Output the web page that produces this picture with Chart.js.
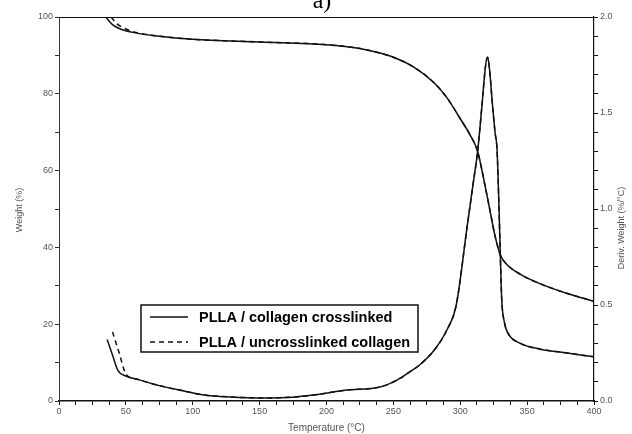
<!DOCTYPE html>
<html>
<head>
<meta charset="utf-8">
<script src="https://cdn.jsdelivr.net/npm/chart.js@4.4.1/dist/chart.umd.min.js"></script>
<style>
  html,body{margin:0;padding:0;background:#fff}
  #wrap{width:632px;height:434px;position:relative}
</style>
</head>
<body>
<div id="wrap"><canvas id="tgaChart"></canvas></div>
<script>
/* ── DATA ── */
const seriesNames = ['PLLA / collagen crosslinked', 'PLLA / uncrosslinked collagen'];

// weight loss (TG), left axis
const tgTempCross   = [35, 40, 45, 55, 75, 100, 150, 200, 225, 240, 250, 265, 280, 290, 300, 307, 313, 318, 322, 326, 330, 335, 345, 360, 380, 400];
const tgWeightCross = [100, 98, 97, 96, 95, 94.2, 93.5, 92.8, 91.8, 90.6, 89.5, 87, 83, 79, 73.5, 69.5, 65, 57, 50, 43, 38, 35.5, 33, 30.5, 28, 26];
const tgTempUncross   = [39, 43, 48, 56, 75, 100, 150, 200, 225, 240, 250, 265, 280, 290, 300, 307, 313, 318, 322, 326, 330, 335, 345, 360, 380, 400];
const tgWeightUncross = [100, 98.3, 97.2, 96.1, 95, 94.2, 93.5, 92.8, 91.8, 90.6, 89.5, 87, 83, 79, 73.5, 69.5, 65, 57, 50, 43, 38, 35.5, 33, 30.5, 28, 26];

// derivative weight (DTG), right axis
const dtgTempCross  = [36, 40, 44, 50, 60, 75, 90, 110, 128, 152, 175, 190, 215, 240, 253, 262, 270, 280, 290, 297, 305, 310, 313, 316, 319, 320.5, 322, 324, 326, 327.5, 329, 330, 331, 333, 336, 345, 360, 380, 400];
const dtgValueCross = [0.32, 0.24, 0.16, 0.13, 0.11, 0.08, 0.057, 0.03, 0.021, 0.016, 0.02, 0.031, 0.057, 0.073, 0.11, 0.15, 0.19, 0.26, 0.37, 0.50, 0.90, 1.15, 1.30, 1.52, 1.75, 1.79, 1.72, 1.55, 1.40, 1.31, 1.0, 0.75, 0.53, 0.41, 0.35, 0.30, 0.27, 0.25, 0.23];
const dtgTempUncross  = [40, 45, 50, 55, 60, 75, 90, 110, 128, 152, 175, 190, 215, 240, 253, 262, 270, 280, 290, 297, 305, 310, 313, 316, 319, 320.5, 322, 324, 326, 327.5, 329, 330, 331, 333, 336, 345, 360, 380, 400];
const dtgValueUncross = [0.36, 0.25, 0.14, 0.12, 0.11, 0.08, 0.057, 0.03, 0.021, 0.016, 0.02, 0.031, 0.057, 0.073, 0.11, 0.15, 0.19, 0.26, 0.37, 0.50, 0.90, 1.15, 1.30, 1.52, 1.75, 1.79, 1.72, 1.55, 1.40, 1.31, 1.0, 0.75, 0.53, 0.41, 0.35, 0.30, 0.27, 0.25, 0.23];

const titleText  = 'a)';
const xTitle     = 'Temperature (°C)';
const yTitle     = 'Weight (%)';
const y1Title    = 'Deriv. Weight (%/°C)';

function pts(xs, ys){ return xs.map((x,i)=>({x:x, y:ys[i]})); }

const INK = '#111';
const DASH = [5,4];

/* ── PLUGIN: frame top, title, y titles, legend box ── */
const decor = {
  id:'decor',
  afterDraw(chart){
    const ctx = chart.ctx, a = chart.chartArea;
    ctx.save();
    // top frame
    ctx.strokeStyle = INK; ctx.lineWidth = 1.2;
    ctx.beginPath(); ctx.moveTo(a.left, a.top+0.5); ctx.lineTo(a.right, a.top+0.5); ctx.stroke();

    // "a)" title, cut by top edge
    ctx.fillStyle = '#000';
    ctx.font = '24px "Liberation Serif", "DejaVu Serif", serif';
    ctx.textAlign = 'center'; ctx.textBaseline = 'alphabetic';
    ctx.fillText(titleText, 322, 8);

    // rotated axis titles
    ctx.fillStyle = '#555';
    ctx.font = '9px "Liberation Sans", Arial, sans-serif';
    ctx.textBaseline = 'middle';
    ctx.save(); ctx.translate(20, 210); ctx.rotate(-Math.PI/2); ctx.fillText(yTitle, 0, 0); ctx.restore();
    ctx.save(); ctx.translate(622, 228); ctx.rotate(-Math.PI/2); ctx.fillText(y1Title, 0, 0); ctx.restore();

    // legend box
    const bx = 141, by = 305, bw = 277, bh = 47;
    ctx.fillStyle = '#fff'; ctx.fillRect(bx, by, bw, bh);
    ctx.strokeStyle = INK; ctx.lineWidth = 1.5;
    ctx.strokeRect(bx, by, bw, bh);
    const rows = [317, 342];
    ctx.font = 'bold 14.5px "Liberation Sans", Arial, sans-serif';
    ctx.textAlign = 'left'; ctx.fillStyle = '#000';
    rows.forEach((ry,i)=>{
      ctx.lineWidth = 1.3;
      ctx.setLineDash(i===0 ? [] : DASH);
      ctx.beginPath(); ctx.moveTo(150, ry); ctx.lineTo(188, ry); ctx.stroke();
      ctx.setLineDash([]);
      ctx.fillText(seriesNames[i], 199, ry+1);
    });
    ctx.restore();
  }
};

const tickFont = {family:'"Liberation Sans", Arial, sans-serif', size:9};

new Chart(document.getElementById('tgaChart'), {
  type:'line',
  data:{
    datasets:[
      {label:seriesNames[0], data:pts(tgTempCross, tgWeightCross), yAxisID:'y',
       borderColor:INK, borderWidth:1.5, pointRadius:0, cubicInterpolationMode:'monotone', fill:false},
      {label:seriesNames[1], data:pts(tgTempUncross, tgWeightUncross), yAxisID:'y',
       borderColor:INK, borderWidth:1.5, borderDash:DASH, pointRadius:0, cubicInterpolationMode:'monotone', fill:false},
      {label:seriesNames[0]+' DTG', data:pts(dtgTempCross, dtgValueCross), yAxisID:'y1',
       borderColor:INK, borderWidth:1.5, pointRadius:0, cubicInterpolationMode:'monotone', fill:false},
      {label:seriesNames[1]+' DTG', data:pts(dtgTempUncross, dtgValueUncross), yAxisID:'y1',
       borderColor:INK, borderWidth:1.5, borderDash:DASH, pointRadius:0, cubicInterpolationMode:'monotone', fill:false}
    ]
  },
  options:{
    responsive:true, maintainAspectRatio:false, animation:false,
    layout:{padding:{top:17, left:0, right:0, bottom:0}},
    plugins:{legend:{display:false}, tooltip:{enabled:false}},
    scales:{
      x:{
        type:'linear', min:0, max:400,
        afterFit(s){ s.height = 33; },
        border:{color:INK, width:1.5},
        grid:{drawOnChartArea:false, tickLength:4, tickColor:INK},
        ticks:{stepSize:12.5, padding:1, color:'#555', font:tickFont, maxRotation:0, autoSkip:false,
               callback:v=> v%50===0 ? v : ''},
        title:{display:true, text:xTitle, color:'#555', font:{family:'"Liberation Sans", Arial, sans-serif', size:10}, padding:{top:4,bottom:0}}
      },
      y:{
        position:'left', min:0, max:100,
        afterFit(s){ s.width = 59; },
        border:{color:'#333', width:1, dash:[2,1]},
        grid:{drawOnChartArea:false, tickLength:4, tickColor:'#333'},
        ticks:{stepSize:10, padding:2, color:'#555', font:tickFont, autoSkip:false,
               callback:v=> v%20===0 ? v : ''}
      },
      y1:{
        position:'right', min:0, max:2,
        afterFit(s){ s.width = 38; },
        border:{color:INK, width:1.2},
        grid:{drawOnChartArea:false, tickLength:4, tickColor:INK},
        ticks:{stepSize:0.1, padding:2, color:'#555', font:tickFont, autoSkip:false,
               callback:v=> Math.abs(v*2-Math.round(v*2))<1e-6 ? v.toFixed(1) : ''}
      }
    }
  },
  plugins:[decor]
});
</script>
</body>
</html>
